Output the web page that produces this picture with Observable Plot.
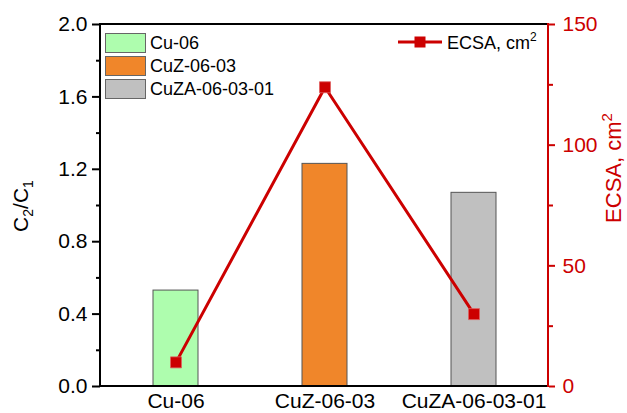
<!DOCTYPE html>
<html><head><meta charset="utf-8">
<script src="https://cdn.jsdelivr.net/npm/d3@7"></script>
<script src="https://cdn.jsdelivr.net/npm/@observablehq/plot@0.6"></script>
<style>body{margin:0;background:#fff} svg{display:block}</style>
</head><body><div id="chart"></div>
<script>
const categories = ["Cu-06", "CuZ-06-03", "CuZA-06-03-01"];
const ratioValues = [0.53, 1.23, 1.07];
const ecsaValues = [10, 124, 30];
const barColors = ["#AEFDAE", "#F0862A", "#C0C0C0"];
const leftTicks = [0, 0.4, 0.8, 1.2, 1.6, 2.0];
const leftMinor = [0.2, 0.6, 1.0, 1.4, 1.8];
const rightTicks = [0, 50, 100, 150];
const rightMinor = [25, 75, 125];

const W = 627, H = 413, mL = 100, mR = 79, mT = 24, mB = 27;
const yMax = 2, ecsaMax = 150;
const red = "#CC0000";
const font = "'Liberation Sans', Arial, sans-serif";
const toLeft = v => v * yMax / ecsaMax;

const bars = categories.map((c, i) => ({c, v: ratioValues[i], color: barColors[i]}));
const pts = categories.map((c, i) => ({c, e: toLeft(ecsaValues[i])}));

const plot = Plot.plot({
  width: W, height: H,
  marginLeft: mL, marginRight: mR, marginTop: mT, marginBottom: mB,
  style: {fontFamily: font, fontSize: "21px", color: "#000", background: "#fff"},
  x: {domain: categories, paddingInner: 0.7, paddingOuter: 0.35, label: null},
  y: {domain: [0, yMax], label: null},
  color: {type: "identity"},
  marks: [
    Plot.barY(bars, {x: "c", y: "v", fill: "color", stroke: "#555", strokeWidth: 1}),
    Plot.line(pts, {x: "c", y: "e", stroke: red, strokeWidth: 3}),
    Plot.dot(pts, {x: "c", y: "e", symbol: "square", r: 6.2, fill: red, stroke: "#e06060", strokeWidth: 0.8}),
    Plot.axisY(leftTicks, {anchor: "left", tickSize: 8, tickPadding: 5, tickFormat: d => d.toFixed(1), fontSize: 21, strokeWidth: 2}),
    Plot.axisY(leftMinor, {anchor: "left", tickSize: 4, text: null, strokeWidth: 2}),
    Plot.axisY(rightTicks.map(toLeft), {anchor: "right", tickSize: 6, tickPadding: 8, tickFormat: d => String(Math.round(d * ecsaMax / yMax)), fontSize: 21, color: red, stroke: red, fill: red, strokeWidth: 2}),
    Plot.axisY(rightMinor.map(toLeft), {anchor: "right", tickSize: 4, text: null, stroke: red, strokeWidth: 2}),
    Plot.axisX({anchor: "bottom", tickSize: 0, tickPadding: 7, fontSize: 21})
  ]
});

document.getElementById("chart").appendChild(plot);

const svg = d3.select(plot);
const x0 = mL, x1 = W - mR, y0 = mT, y1 = H - mB;
const g = svg.append("g").attr("text-anchor", "start");
g.append("line").attr("x1", x0).attr("x2", x1).attr("y1", y0).attr("y2", y0).attr("stroke", "#000").attr("stroke-width", 2);
g.append("line").attr("x1", x0).attr("x2", x1).attr("y1", y1).attr("y2", y1).attr("stroke", "#000").attr("stroke-width", 2);
g.append("line").attr("x1", x0).attr("x2", x0).attr("y1", y0 - 1).attr("y2", y1 + 1).attr("stroke", "#000").attr("stroke-width", 2);
g.append("line").attr("x1", x1).attr("x2", x1).attr("y1", y0 - 1).attr("y2", y1 + 1).attr("stroke", red).attr("stroke-width", 2);

// Axis titles
const lt = g.append("text").attr("transform", "translate(28,206) rotate(-90)")
  .attr("text-anchor", "middle").attr("font-family", font).attr("font-size", 21).attr("fill", "#000");
lt.append("tspan").text("C");
lt.append("tspan").attr("font-size", 14).attr("dy", 5).text("2");
lt.append("tspan").attr("dy", -5).text("/C");
lt.append("tspan").attr("font-size", 14).attr("dy", 5).text("1");

const rt = g.append("text").attr("transform", "translate(621,168) rotate(-90)")
  .attr("text-anchor", "middle").attr("font-family", font).attr("font-size", 22).attr("fill", red);
rt.append("tspan").text("ECSA, cm");
rt.append("tspan").attr("font-size", 15).attr("dy", -9).text("2");

// Legend (bars)
const legY = [33, 56, 79];
categories.forEach((c, i) => {
  g.append("rect").attr("x", 105.5).attr("y", legY[i] + 0.5).attr("width", 40).attr("height", 19)
    .attr("fill", barColors[i]).attr("stroke", "#666").attr("stroke-width", 1);
  g.append("text").attr("x", 150).attr("y", legY[i] + 16).attr("text-anchor", "start")
    .attr("font-family", font).attr("font-size", 18).attr("fill", "#000").text(c);
});

// Legend (ECSA)
g.append("line").attr("x1", 398).attr("x2", 442).attr("y1", 42).attr("y2", 42).attr("stroke", red).attr("stroke-width", 3);
g.append("rect").attr("x", 414.5).attr("y", 36.5).attr("width", 11).attr("height", 11).attr("fill", red);
const et = g.append("text").attr("x", 447).attr("y", 49).attr("text-anchor", "start")
  .attr("font-family", font).attr("font-size", 18).attr("fill", "#000");
et.append("tspan").text("ECSA, cm");
et.append("tspan").attr("font-size", 12).attr("dy", -8).text("2");
</script>
</body></html>
